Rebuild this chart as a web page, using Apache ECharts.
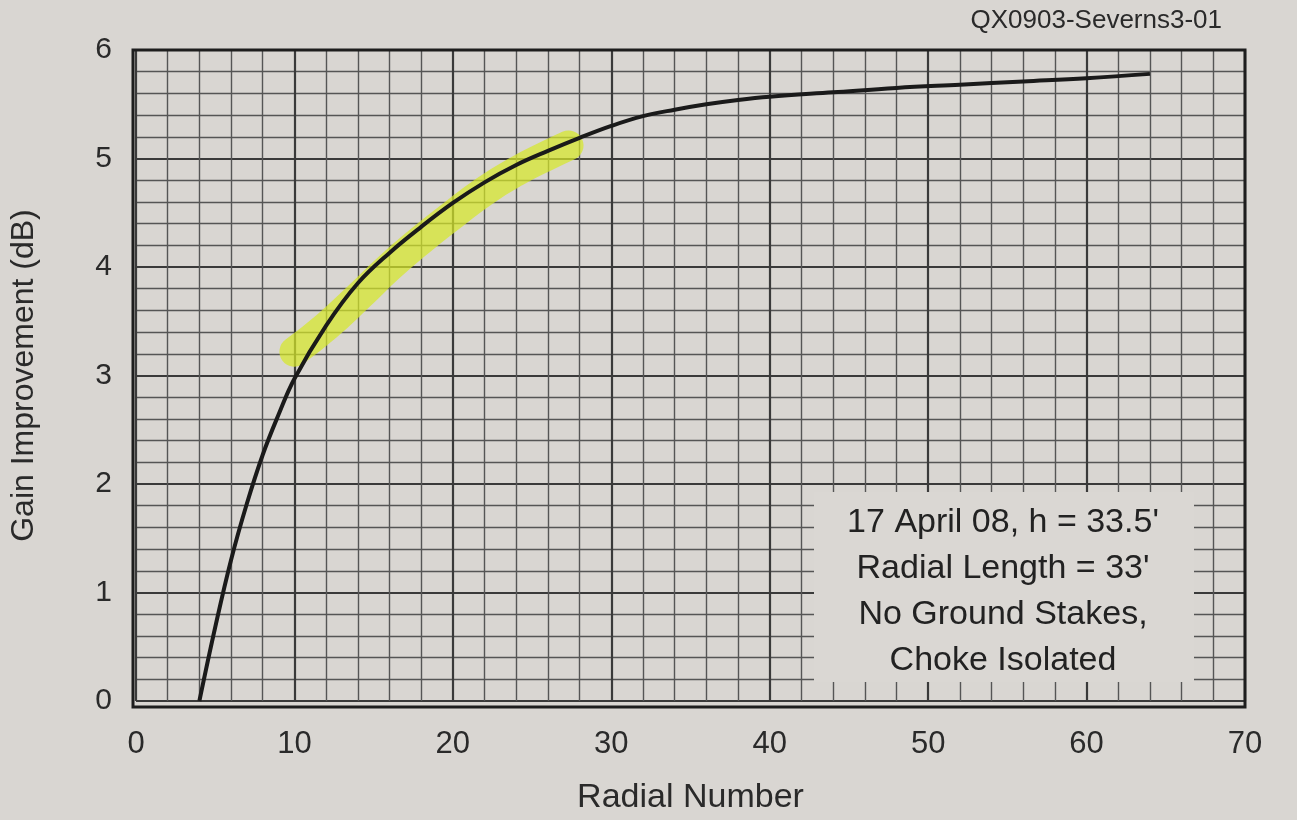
<!DOCTYPE html>
<html>
<head>
<meta charset="utf-8">
<script src="https://cdn.jsdelivr.net/npm/echarts@6/dist/echarts.min.js"></script>
<style>
html,body{margin:0;padding:0;background:#d9d6d2;}
#c{width:1297px;height:820px;}
</style>
</head>
<body>
<div id="c"></div>
<script>
// Curve: radial number vs gain improvement (dB)
const radialNumber = [4, 5, 6, 7, 8, 9, 10, 12, 14, 16, 18, 20, 22, 24, 26, 28, 30, 32, 34, 36, 38, 40, 44, 48, 52, 56, 60, 64];
const gainDb =       [0, 0.68, 1.3, 1.82, 2.27, 2.64, 2.97, 3.46, 3.85, 4.13, 4.37, 4.59, 4.78, 4.94, 5.07, 5.19, 5.3, 5.39, 5.45, 5.5, 5.54, 5.57, 5.61, 5.65, 5.68, 5.71, 5.74, 5.78];
// Highlighter stroke (hand-drawn yellow marker)
const highlightX = [10.0, 12, 14, 16, 18, 20, 22, 24, 26, 27.3];
const highlightY = [3.22, 3.45, 3.72, 4.0, 4.25, 4.48, 4.7, 4.88, 5.03, 5.12];
const xTicks = [0, 10, 20, 30, 40, 50, 60, 70];
const yTicks = [0, 1, 2, 3, 4, 5, 6];
const noteLines = ["17 April 08, h = 33.5'", "Radial Length = 33'", "No Ground Stakes,", "Choke Isolated"];
const figureId = "QX0903-Severns3-01";

const chart = echarts.init(document.getElementById('c'));
const font = '"Liberation Sans", Arial, sans-serif';
const curve = radialNumber.map((x, i) => [x, gainDb[i]]);
const hl = highlightX.map((x, i) => [x, highlightY[i]]);

chart.setOption({
  backgroundColor: '#d9d6d2',
  animation: false,
  grid: {left: 133, right: 52, top: 50, bottom: 113, containLabel: false},
  xAxis: {
    type: 'value', min: xTicks[0], max: xTicks[xTicks.length - 1], interval: 10,
    name: 'Radial Number', nameLocation: 'middle', nameGap: 80,
    nameTextStyle: {fontFamily: font, fontSize: 34, color: '#2a2a2a'},
    axisLine: {show: false},
    axisTick: {show: false},
    axisLabel: {fontFamily: font, fontSize: 31, color: '#2a2a2a', margin: 28},
    splitLine: {show: true, lineStyle: {color: '#3a3a3a', width: 2.2}},
    minorTick: {show: false, splitNumber: 5},
    minorSplitLine: {show: true, lineStyle: {color: '#555', width: 1.4}}
  },
  yAxis: {
    type: 'value', min: yTicks[0], max: yTicks[yTicks.length - 1], interval: 1,
    name: 'Gain Improvement (dB)', nameLocation: 'middle', nameGap: 96,
    nameTextStyle: {fontFamily: font, fontSize: 32, color: '#2a2a2a'},
    axisLine: {show: false},
    axisTick: {show: false},
    axisLabel: {fontFamily: font, fontSize: 30, color: '#2a2a2a', margin: 24},
    splitLine: {show: true, lineStyle: {color: '#3a3a3a', width: 2.2}},
    minorTick: {show: false, splitNumber: 5},
    minorSplitLine: {show: true, lineStyle: {color: '#555', width: 1.4}}
  },
  series: [
    {
      type: 'line', data: hl, smooth: true, symbol: 'none', z: 3,
      lineStyle: {color: 'rgba(214,232,40,0.72)', width: 30, cap: 'round', join: 'round'}
    },
    {
      type: 'line', data: curve, smooth: 0.4, symbol: 'none', z: 5,
      lineStyle: {color: '#1a1a1a', width: 4}
    }
  ],
  graphic: [
    {
      type: 'rect', z: 100,
      shape: {x: 133, y: 50, width: 1297 - 133 - 52, height: 820 - 50 - 113},
      style: {fill: 'none', stroke: '#1e1e1e', lineWidth: 3}
    },
    {
      type: 'rect', z: 90,
      shape: {x: 814, y: 492, width: 380, height: 190},
      style: {fill: '#dad7d3'}
    },
    {
      type: 'text', z: 101, x: 1003, y: 500,
      style: {
        text: noteLines.join('\n'), fontFamily: font, fontSize: 34, lineHeight: 46,
        fill: '#222', textAlign: 'center', textVerticalAlign: 'top'
      }
    },
    {
      type: 'text', z: 101, x: 1222, y: 8,
      style: {text: figureId, fontFamily: font, fontSize: 26, fill: '#2a2a2a', textAlign: 'right'}
    }
  ]
});
</script>
</body>
</html>
